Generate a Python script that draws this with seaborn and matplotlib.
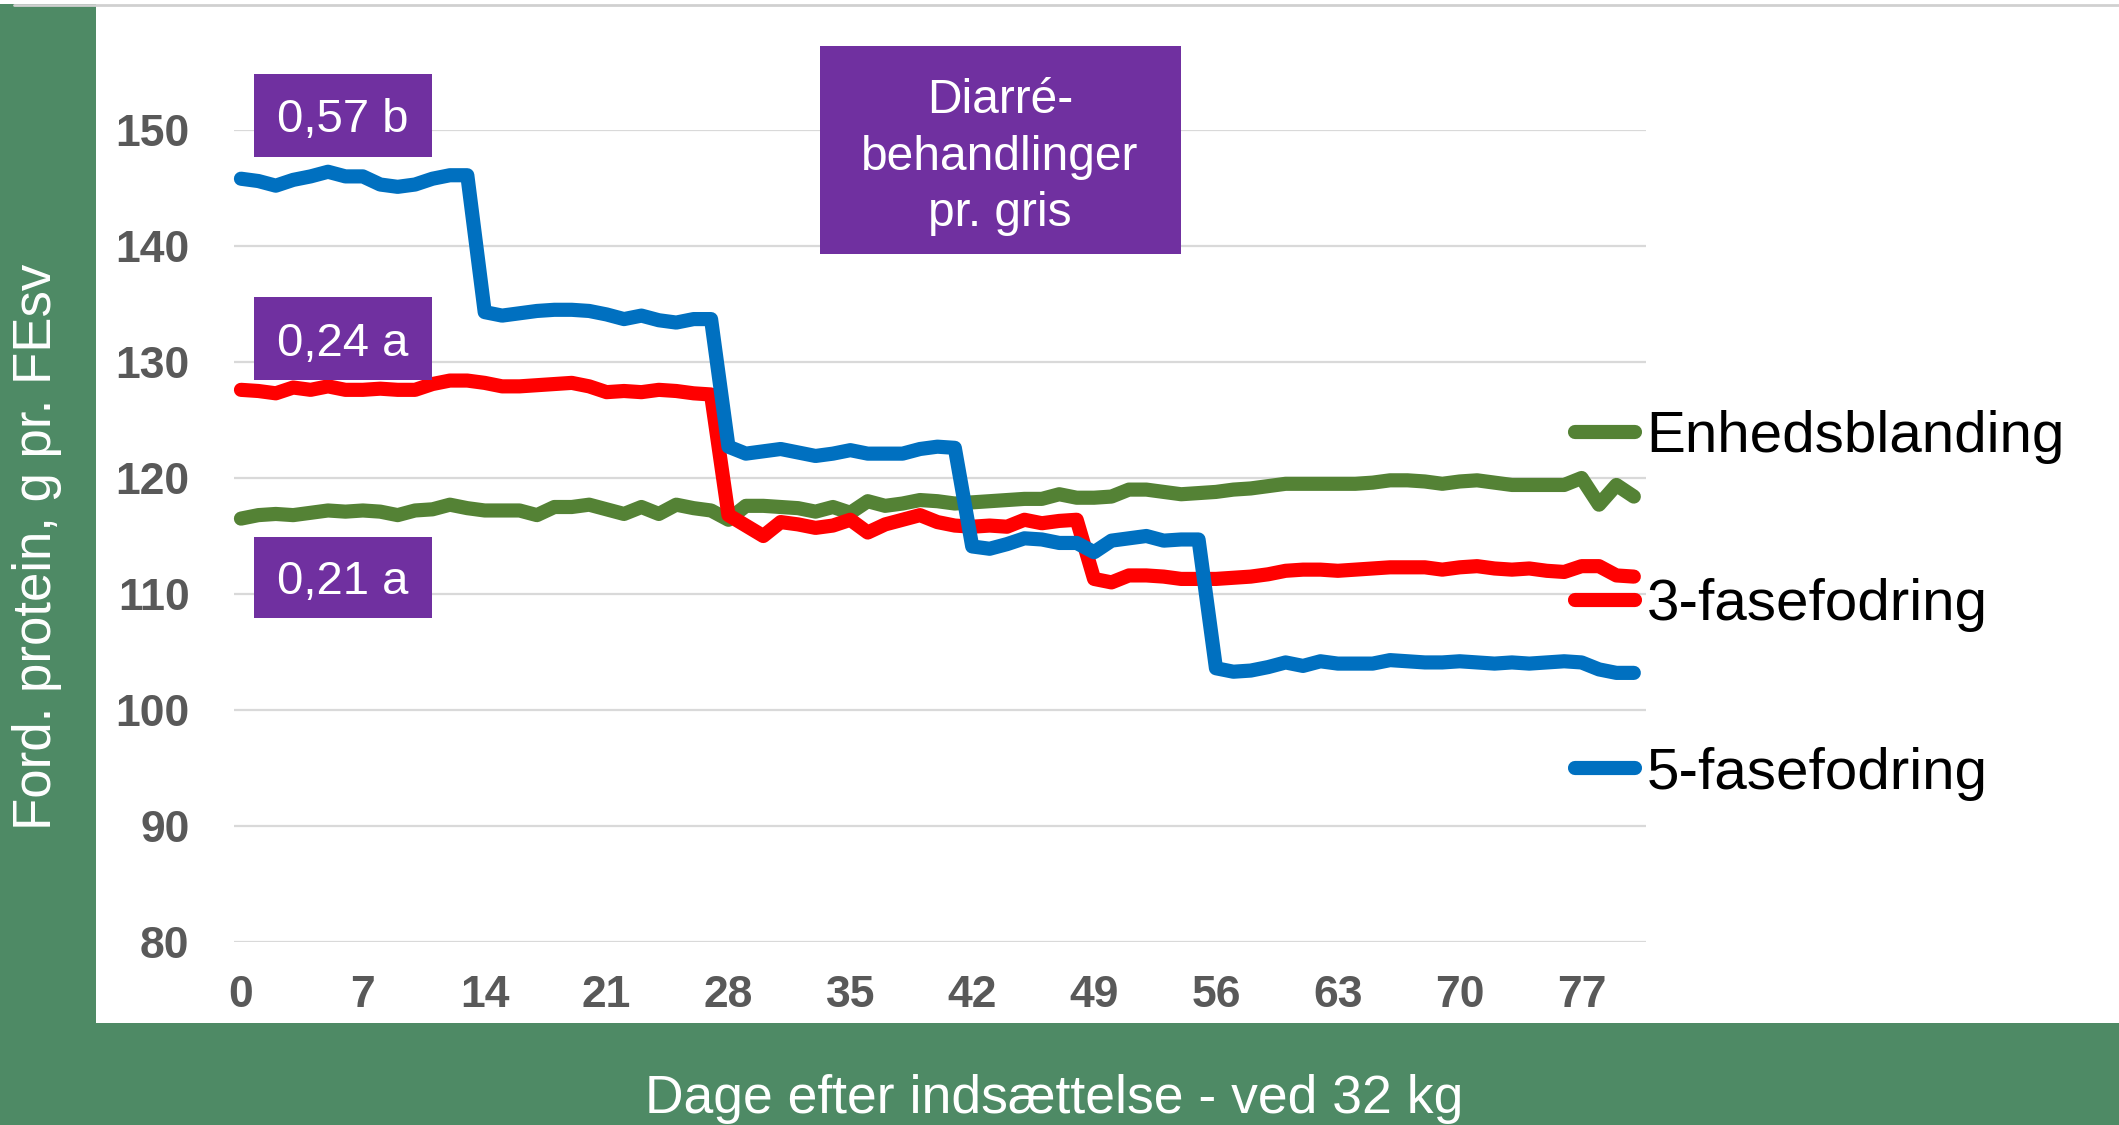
import numpy as np
import pandas as pd
import matplotlib
matplotlib.use('Agg')
import matplotlib.pyplot as plt
import seaborn as sns
from matplotlib.patches import Rectangle
from matplotlib.lines import Line2D

# days after insertion (0..80)
days = list(range(81))

enheds = [116.5, 116.8, 116.9, 116.8, 117.0, 117.2, 117.1, 117.2, 117.1, 116.8,
          117.2, 117.3, 117.7, 117.4, 117.2, 117.2, 117.2, 116.8, 117.5, 117.5,
          117.7, 117.3, 116.9, 117.5, 116.9, 117.7, 117.4, 117.2, 116.4, 117.6,
          117.6, 117.5, 117.4, 117.1, 117.5, 117.0, 118.0, 117.6, 117.8, 118.1,
          118.0, 117.8, 117.9, 118.0, 118.1, 118.2, 118.2, 118.6, 118.3, 118.3,
          118.4, 119.0, 119.0, 118.8, 118.6, 118.7, 118.8, 119.0, 119.1, 119.3,
          119.5, 119.5, 119.5, 119.5, 119.5, 119.6, 119.8, 119.8, 119.7, 119.5,
          119.7, 119.8, 119.6, 119.4, 119.4, 119.4, 119.4, 120.0, 117.7, 119.4,
          118.4]

fase3 = [127.6, 127.5, 127.3, 127.8, 127.6, 127.9, 127.6, 127.6, 127.7, 127.6,
         127.6, 128.1, 128.4, 128.4, 128.2, 127.9, 127.9, 128.0, 128.1, 128.2,
         127.9, 127.4, 127.5, 127.4, 127.6, 127.5, 127.3, 127.2, 116.8, 115.9,
         115.0, 116.2, 116.0, 115.7, 115.9, 116.4, 115.3, 116.0, 116.4, 116.8,
         116.2, 115.9, 115.8, 115.9, 115.8, 116.4, 116.1, 116.3, 116.4, 111.3,
         111.0, 111.6, 111.6, 111.5, 111.3, 111.3, 111.3, 111.4, 111.5, 111.7,
         112.0, 112.1, 112.1, 112.0, 112.1, 112.2, 112.3, 112.3, 112.3, 112.1,
         112.3, 112.4, 112.2, 112.1, 112.2, 112.0, 111.9, 112.4, 112.4, 111.6,
         111.5]

fase5 = [145.8, 145.6, 145.2, 145.7, 146.0, 146.4, 146.0, 146.0, 145.3, 145.1,
         145.3, 145.8, 146.1, 146.1, 134.3, 134.0, 134.2, 134.4, 134.5, 134.5,
         134.4, 134.1, 133.7, 134.0, 133.6, 133.4, 133.7, 133.7, 122.7, 122.1,
         122.3, 122.5, 122.2, 121.9, 122.1, 122.4, 122.1, 122.1, 122.1, 122.5,
         122.7, 122.6, 114.1, 113.9, 114.3, 114.8, 114.7, 114.4, 114.4, 113.6,
         114.6, 114.8, 115.0, 114.6, 114.7, 114.7, 103.6, 103.3, 103.4, 103.7,
         104.1, 103.8, 104.2, 104.0, 104.0, 104.0, 104.3, 104.2, 104.1, 104.1,
         104.2, 104.1, 104.0, 104.1, 104.0, 104.1, 104.2, 104.1, 103.5, 103.2,
         103.2]

series_names = ['Enhedsblanding', '3-fasefodring', '5-fasefodring']
series_colors = ['#548235', '#ff0000', '#0070c0']
x_ticks = list(range(0, 78, 7))
y_ticks = list(range(80, 151, 10))
box_labels = ['0,57 b', '0,24 a', '0,21 a']
note_text = 'Diarré-\nbehandlinger\npr. gris'
y_label = 'Ford. protein, g pr. FEsv'
x_label = 'Dage efter indsættelse - ved 32 kg'

df = pd.DataFrame({
    'dag': days * 3,
    'protein': enheds + fase3 + fase5,
    'serie': [n for n in series_names for _ in days],
})

sns.set_theme(style='white')
plt.rcParams['font.family'] = ['Liberation Sans', 'DejaVu Sans']

W, H = 2119, 1125
frame_green = '#4e8a65'
purple = '#7030a0'
LW = 10.2

fig = plt.figure(figsize=(W / 100, H / 100), dpi=100)
fig.patch.set_facecolor('white')


def px_rect(x0, y0, x1, y1, color, z=0):
    r = Rectangle((x0 / W, 1 - y1 / H), (x1 - x0) / W, (y1 - y0) / H,
                  transform=fig.transFigure, facecolor=color,
                  edgecolor='none', zorder=z)
    fig.patches.append(r)


# green frame (left + bottom) and the grey rule at the top
px_rect(0, 4, 96, H, frame_green)
px_rect(0, 1023, W, H, frame_green)
fig.add_artist(Line2D([14 / W, 1], [1 - 5 / H, 1 - 5 / H], color='#d0d0d0', lw=2))

ax = fig.add_axes([234 / W, 1 - 942 / H, (1646 - 234) / W, (942 - 130) / H])
ax.set_facecolor('none')
sns.lineplot(data=df, x='dag', y='protein', hue='serie', hue_order=series_names,
             palette=dict(zip(series_names, series_colors)), linewidth=LW,
             ax=ax, sort=False)
for ln in ax.lines:
    ln.set_linewidth(LW)
    ln.set_solid_capstyle('round')
    ln.set_solid_joinstyle('round')
    ln.set_clip_on(False)

ax.set_xlim(-0.4, 80.7)
ax.set_ylim(80, 150)
ax.set_xticks(x_ticks)
ax.set_yticks(y_ticks)
ax.grid(axis='y', color='#d9d9d9', linewidth=1.6)
ax.grid(axis='x', visible=False)
sns.despine(ax=ax, left=True, bottom=True)
ax.tick_params(axis='both', length=0, labelsize=32, labelcolor='#595959')
ax.tick_params(axis='y', pad=32)
ax.tick_params(axis='x', pad=24)
for lbl in ax.get_xticklabels() + ax.get_yticklabels():
    lbl.set_fontweight('bold')
ax.set_xlabel('')
ax.set_ylabel('')

handles, labels = ax.get_legend_handles_labels()
leg = ax.legend(handles, labels, loc='upper left',
                bbox_to_anchor=(1575 / W, 1 - 410 / H), bbox_transform=fig.transFigure,
                frameon=False, fontsize=42, handlelength=1.03, handletextpad=0.2,
                labelspacing=1.96, borderpad=0, borderaxespad=0)
for h in leg.get_lines():
    h.set_linewidth(LW)
    h.set_solid_capstyle('round')
for t in leg.get_texts():
    t.set_color('black')

# axis titles in the green frame
fig.text(37 / W, 1 - 547 / H, y_label, rotation=90, color='white', fontsize=38,
         ha='center', va='center')
fig.text(1054 / W, 1 - 1099 / H, x_label, color='white', fontsize=38.5,
         ha='center', va='center')

# purple annotation boxes
boxes = [(254, 74, 432, 157), (254, 297, 432, 380), (254, 537, 432, 618)]
for (x0, y0, x1, y1), txt in zip(boxes, box_labels):
    px_rect(x0, y0, x1, y1, purple, z=5)
    fig.text((x0 + x1) / 2 / W, 1 - ((y0 + y1) / 2 + 5) / H, txt, color='white',
             fontsize=34, ha='center', va='center', zorder=6)

px_rect(820, 46, 1181, 254, purple, z=5)
fig.text(1000 / W, 1 - 157 / H, note_text, color='white', fontsize=34.5,
         ha='center', va='center', multialignment='center', linespacing=1.32, zorder=6)

fig.savefig('out.png', dpi=100, facecolor='white')
